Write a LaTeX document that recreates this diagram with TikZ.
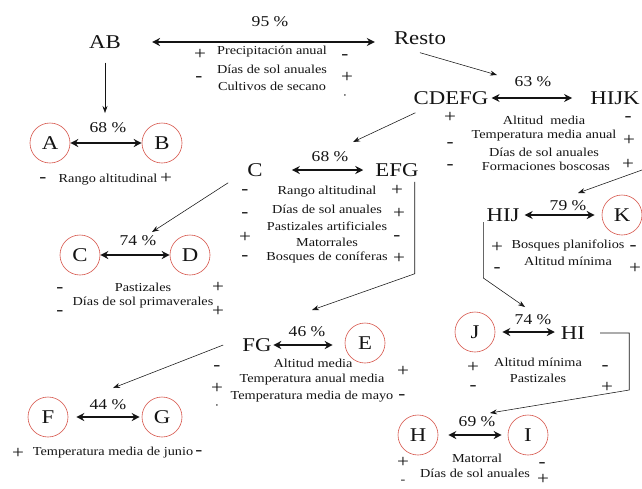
\documentclass[tikz,border=0pt]{standalone}
\usepackage{fontspec}
\setmainfont{Liberation Serif}[FakeStretch=1.17]
\usetikzlibrary{arrows.meta}
\definecolor{circred}{RGB}{215,85,75}
\definecolor{ink}{RGB}{20,20,20}
\begin{document}
\begin{tikzpicture}[x=1pt,y=-1pt,
 big/.style={inner sep=0pt, font=\fontsize{19.5}{20}\selectfont, text=ink},
 circ/.style={circle, draw=circred, line width=0.6pt, minimum size=40pt, inner sep=0pt, font=\fontsize{19.5}{20}\selectfont, text=ink},
 pct/.style={inner sep=0pt, font=\fontsize{15}{16}\selectfont, text=ink},
 lab/.style={inner sep=0pt, font=\fontsize{12.2}{13}\selectfont, text=ink},
 sgn/.style={inner sep=0pt, font=\fontsize{18}{18}\selectfont, text=ink},
 dbl/.style={{Stealth[length=8pt,width=8pt]}-{Stealth[length=8pt,width=8pt]}, line width=1.6pt, draw=ink},
 conn/.style={-{Stealth[length=7pt,width=5pt]}, line width=0.55pt, draw=ink},
]
\useasboundingbox (0,0) rectangle (642,488);
\fill[white] (0,0) rectangle (642,488);

% ---- top level
\node[big] (AB) at (105,42) {AB};
\node[big] (Resto) at (420,38) {Resto};
\node[pct] (p95) at (270,22) {95 \%};
\draw[dbl, shorten <=31pt, shorten >=19pt] (AB.east) -- (AB.east -| Resto.west);
\node[sgn] (s1) at (200,54) {+};
\node[lab] (t1) at (272,52) {Precipitación anual};
\node[sgn] (s2) at (345,57) {-};
\node[sgn] (s3) at (199,79) {-};
\node[lab] (t2) at (272,69) {Días de sol anuales};
\node[sgn] (s4) at (347,77) {+};
\node[lab] (t3) at (272,86) {Cultivos de secano};
\node[lab] (s5) at (345,97) {·};

% ---- A / B
\coordinate (tAB) at (105,113);
\draw[conn] (AB.south) ++(0,14) -- (tAB);
\node[circ] (A) at (50,143) {A};
\node[circ] (B) at (162,143) {B};
\node[pct] (pAB) at (108,128) {68 \%};
\draw[dbl] (A) -- (B);
\node[sgn] (s6) at (43,180) {-};
\node[lab] (t4) at (108,180) {Rango altitudinal};
\node[sgn] (s7) at (166,178) {+};

% ---- CDEFG / HIJK
\coordinate (tR) at (497,75);
\draw[conn] (Resto.south) ++(0,8) -- (tR);
\node[big] (CDEFG) at (451,98) {CDEFG};
\node[big] (HIJK) at (615,98) {HIJK};
\node[pct] (p63) at (533,82) {63 \%};
\draw[dbl, shorten <=3pt, shorten >=18pt] (CDEFG.east) -- (HIJK.west);
\node[sgn] (s8) at (450,117) {+};
\node[lab] (t5) at (544,120) {Altitud \ media};
\node[sgn] (s9) at (628,119) {-};
\node[sgn] (s10) at (450,145) {-};
\node[lab] (t6) at (544,135.5) {Temperatura media anual};
\node[sgn] (s11) at (629,140) {+};
\node[lab] (t7) at (544,152) {Días de sol anuales};
\node[sgn] (s12) at (450,167) {-};
\node[lab] (t8) at (546,166.5) {Formaciones boscosas};
\node[sgn] (s13) at (628,164) {+};

% ---- C / EFG
\coordinate (tCD) at (353,142);
\draw[conn] (CDEFG.south west) ++(2,8) -- (tCD);
\node[big] (C) at (255,170) {C};
\node[big] (EFG) at (397,170) {EFG};
\node[pct] (p68) at (330,157) {68 \%};
\draw[dbl, shorten <=29pt, shorten >=12pt] (C.east) -- (EFG.west);
\node[sgn] (s14) at (245,192) {-};
\node[lab] (t9) at (327,192) {Rango altitudinal};
\node[sgn] (s15) at (397,190) {+};
\node[sgn] (s16) at (245,215) {-};
\node[lab] (t10) at (327,209) {Días de sol anuales};
\node[sgn] (s17) at (399,213) {+};
\node[lab] (t11) at (327,226) {Pastizales artificiales};
\node[sgn] (s18) at (245,237) {+};
\node[lab] (t12) at (327,242) {Matorrales};
\node[sgn] (s19) at (397,238) {-};
\node[sgn] (s20) at (245,258) {-};
\node[lab] (t13) at (327,257) {Bosques de coníferas};
\node[sgn] (s21) at (399,258) {+};

% ---- C / D
\coordinate (tC) at (152,232);
\draw[conn] (C.south west) ++(-19,6) -- (tC);
\node[circ] (C2) at (80,255) {C};
\node[circ] (D) at (190,255) {D};
\node[pct] (p74) at (138,241) {74 \%};
\draw[dbl] (C2) -- (D);
\node[sgn] (s22) at (60,290) {-};
\node[lab] (t14) at (143,287) {Pastizales};
\node[sgn] (s23) at (218,287) {+};
\node[lab] (t15) at (143,303) {Días de sol primaverales};
\node[sgn] (s24) at (60,313) {-};
\node[sgn] (s25) at (218,311) {+};

% ---- FG / E
\coordinate (tEFG) at (312,310);
\draw[conn] (EFG.south east) ++(-4,5) -- ++(0,92) -- (tEFG);
\node[big] (FG) at (257,345) {FG};
\node[circ] (E) at (365,343) {E};
\node[pct] (p46) at (307,332) {46 \%};
\draw[dbl, shorten <=1.5pt, shorten >=12pt] (FG.east) -- (FG.east -| E.west);
\node[lab] (t16) at (313,363) {Altitud media};
\node[sgn] (s26) at (217,368) {-};
\node[sgn] (s27) at (403,371) {+};
\node[lab] (t17) at (312,380) {Temperatura anual media};
\node[sgn] (s28) at (217,388) {+};
\node[lab] (t18) at (312,397) {Temperatura media de mayo};
\node[sgn] (s29) at (402,397) {-};
\node[lab] (s30) at (217,407) {·};

% ---- F / G
\coordinate (tFG) at (113,388);
\draw[conn] (FG.west) ++(-19,0) -- (tFG);
\node[circ] (F) at (48,417) {F};
\node[circ] (G) at (162,417) {G};
\node[pct] (p44) at (108,405) {44 \%};
\draw[dbl, shorten <=8pt, shorten >=2pt] (F) -- (G);
\node[sgn] (s31) at (18,453) {+};
\node[lab] (t19) at (113,453) {Temperatura media de junio};
\node[sgn] (s32) at (199,453) {-};

% ---- HIJ / K
\coordinate (eR) at (642,170);
\coordinate (tHK) at (578,193);
\draw[conn] (eR) -- (tHK);
\node[big] (HIJ) at (503,215) {HIJ};
\node[circ] (K) at (622,215) {K};
\node[pct] (p79) at (568,206) {79 \%};
\draw[dbl, shorten <=5pt, shorten >=7pt] (HIJ.east) -- (K.west);
\node[sgn] (s33) at (497,247) {+};
\node[lab] (t20) at (568,245) {Bosques planifolios};
\node[sgn] (s34) at (633,248) {-};
\node[lab] (t21) at (568,261) {Altitud mínima};
\node[sgn] (s35) at (497,270) {-};
\node[sgn] (s36) at (635,268) {+};

% ---- J / HI
\coordinate (tHIJ) at (525,307);
\draw[conn] (HIJ.west) ++(-3,7) -- ++(0,56) -- (tHIJ);
\node[circ] (J) at (475,332) {J};
\node[big] (HI) at (573,333) {HI};
\node[pct] (p74b) at (533,320) {74 \%};
\draw[dbl, shorten <=7pt, shorten >=6pt] (J.east) -- (J.east -| HI.west);
\node[sgn] (s37) at (473,367) {+};
\node[lab] (t22) at (538,362) {Altitud mínima};
\node[sgn] (s38) at (605,368) {-};
\node[lab] (t23) at (538,378) {Pastizales};
\node[sgn] (s39) at (473,388) {-};
\node[sgn] (s40) at (607,387) {+};

% ---- H / I
\coordinate (tHI) at (490,413);
\draw[conn] (HI.east) ++(15,0) -- ++(29,0) -- ++(0,57) -- (tHI);
\node[circ] (H) at (418,435) {H};
\node[circ] (I) at (528,435) {I};
\node[pct] (p69) at (477,422) {69 \%};
\draw[dbl, shorten <=10pt, shorten >=6pt] (H) -- (I);
\node[sgn] (s41) at (403,462) {+};
\node[lab] (t24) at (477,458) {Matorral};
\node[sgn] (s42) at (542,465) {-};
\node[lab] (t25) at (475,473) {Días de sol anuales};
\node[sgn] (s43) at (543,479) {+};
\node[lab] (s44) at (403,482) {-};
\end{tikzpicture}
\end{document}
